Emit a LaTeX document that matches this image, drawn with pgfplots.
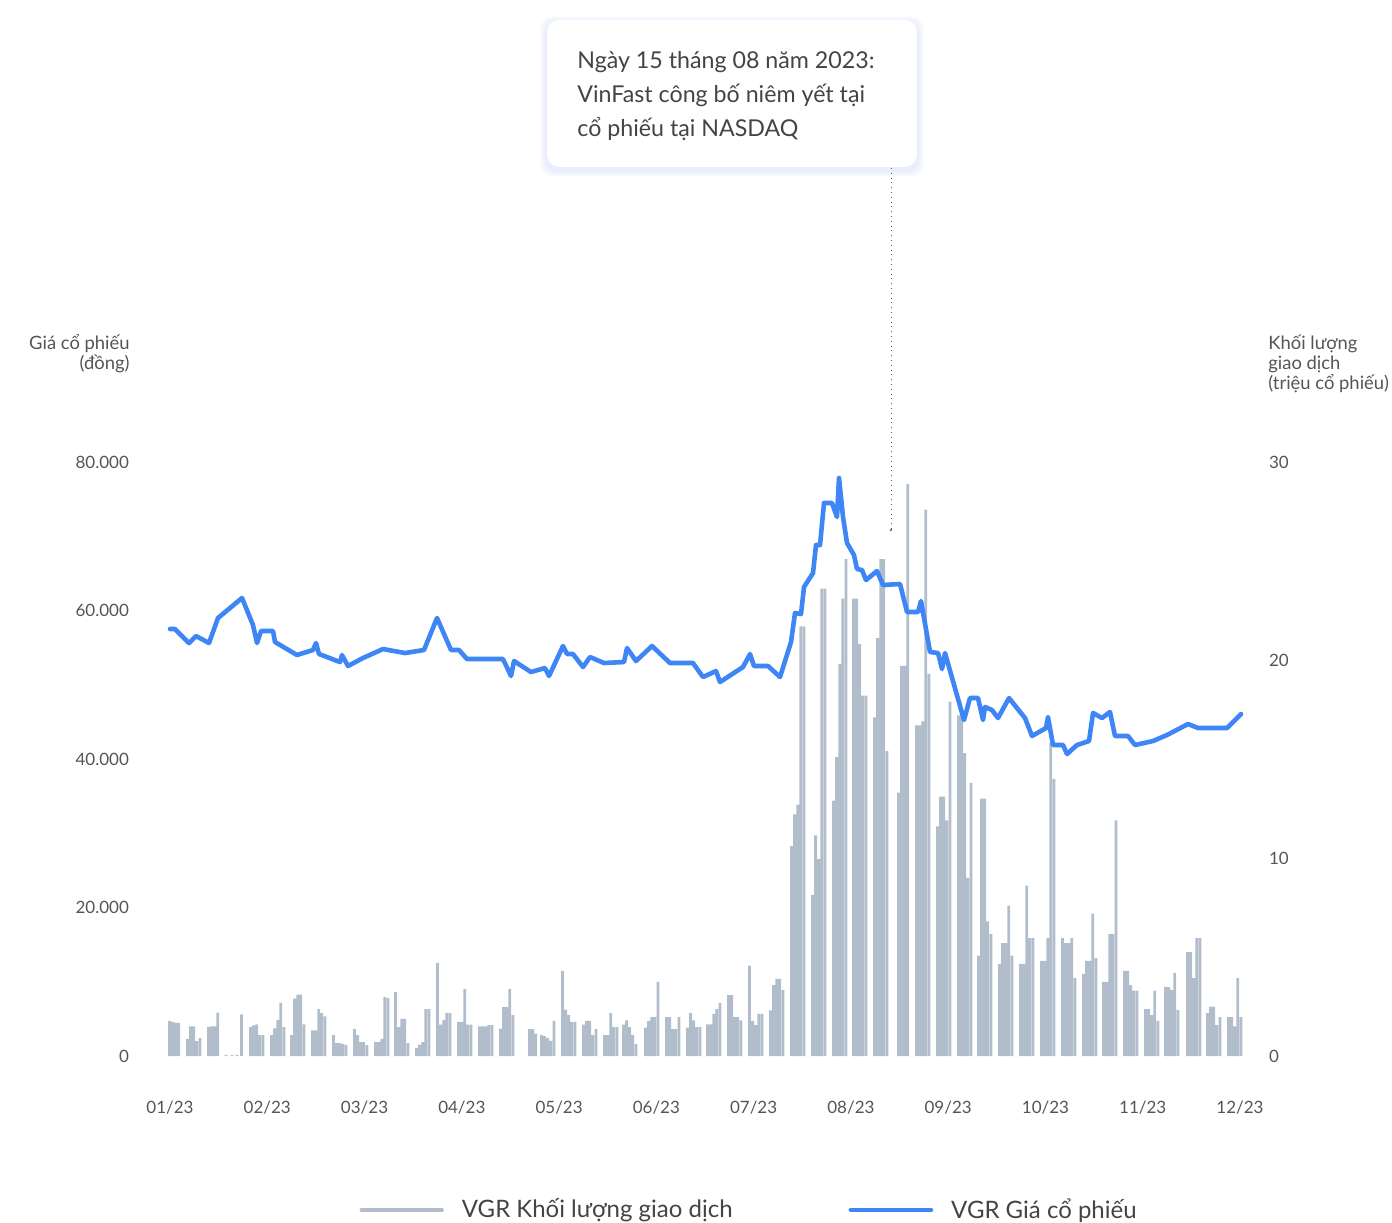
\documentclass[border=0pt]{standalone}
\usepackage{fontspec}
\setmainfont{Lato}
\usepackage{pgfplots}
\pgfplotsset{compat=1.18}
\usepackage{pgfplotstable}
\definecolor{barcol}{RGB}{177,189,202}
\definecolor{linecol}{RGB}{62,133,246}
\definecolor{txt}{RGB}{85,85,85}
\definecolor{anntxt}{RGB}{68,68,68}
\definecolor{shadowcol}{RGB}{150,170,240}

\pgfplotstableread{
x price
170 57508
175 57508
189 55623
196 56566
209 55623
218 58990
242 61684
253 58047
257 55623
261 57239
273 57239
275 55758
297 54007
313 54680
316 55623
319 54141
340 53064
342 54007
348 52525
363 53603
383 54815
405 54276
424 54680
437 58990
451 54680
459 54680
467 53468
503 53468
511 51178
514 53199
531 51717
545 52256
549 51178
563 55219
567 54141
573 54141
583 52391
590 53737
604 52929
624 53064
627 54949
636 53199
652 55219
670 52929
693 52929
703 51044
716 51852
720 50370
743 52391
750 54141
754 52525
768 52525
780 51044
791 55758
795 59663
801 59529
804 63165
813 65050
816 68821
820 68821
824 74478
832 74478
837 72593
839 77845
843 72593
847 69091
854 67475
857 65589
862 65454
866 64108
877 65320
883 63434
900 63569
907 59798
918 59798
921 61279
930 54411
938 54276
942 52121
945 54276
964 45252
970 48215
978 48215
983 45252
985 47003
992 46599
998 45522
1009 48215
1025 45522
1032 43098
1046 44175
1048 45657
1053 41885
1063 41885
1067 40673
1077 41885
1089 42424
1093 46195
1102 45522
1110 46330
1115 43098
1128 43098
1135 41885
1153 42424
1167 43232
1188 44714
1198 44175
1227 44175
1241 46061
}\pricedata

\pgfplotstableread{
x vol
169.5 1.77
172.6 1.72
175.7 1.67
178.8 1.67
187.5 0.87
190.6 1.5
193.7 1.5
196.8 0.75
199.9 0.9
208.5 1.46
211.6 1.5
214.7 1.5
217.8 2.19
226 0.05
232 0.05
237 0.05
241.5 2.1
250.5 1.46
253.6 1.55
256.7 1.6
259.8 1.06
262.9 1.06
271.5 1.06
274.6 1.4
277.7 1.82
280.8 2.68
283.9 1.46
291.5 1.06
294.6 2.9
297.7 3.1
300.8 3.1
303.9 1.6
312.5 1.3
315.6 1.3
318.7 2.37
321.8 2.17
324.9 2.0
333.5 1.06
336.6 0.65
339.7 0.65
342.8 0.6
345.9 0.56
354.5 1.36
357.6 1.06
360.7 0.7
363.8 0.7
366.9 0.55
375.5 0.7
378.6 0.7
381.7 0.87
384.8 2.98
387.9 2.93
395.5 3.23
398.6 1.46
401.7 1.87
404.8 1.87
407.9 0.65
416.5 0.4
419.6 0.57
422.7 0.7
425.8 2.37
428.9 2.37
437.5 4.7
440.6 1.58
443.7 1.83
446.8 2.17
449.9 2.17
458.5 1.72
461.6 1.72
464.7 3.38
467.8 1.58
470.9 1.58
479.5 1.5
482.6 1.5
485.7 1.5
488.8 1.56
491.9 1.56
500.5 1.38
503.6 2.47
506.7 2.47
509.8 3.38
512.9 2.07
529.5 1.36
532.6 1.36
535.7 1.13
541.5 1.06
544.6 1.0
547.7 0.9
550.8 0.77
553.9 1.77
562.5 4.3
565.6 2.34
568.7 2.07
571.8 1.72
574.9 1.72
583.5 1.58
586.6 1.77
589.7 1.77
592.8 1.06
595.9 1.36
604.5 1.06
607.6 1.06
610.7 2.17
613.8 1.46
616.9 1.46
623.5 1.58
626.6 1.8
629.7 1.46
632.8 1.06
635.9 0.6
645.5 1.43
648.6 1.77
651.7 1.97
654.8 1.97
657.9 3.74
666.5 1.97
669.6 1.97
672.7 1.36
675.8 1.36
678.9 1.97
687.5 1.43
690.6 2.17
693.7 1.8
696.8 1.46
699.9 1.46
707.5 1.6
710.6 1.6
713.7 2.13
716.8 2.37
719.9 2.68
728.5 3.08
731.6 3.08
734.7 1.97
737.8 1.97
740.9 1.8
749.5 4.56
752.6 1.77
755.7 1.56
758.8 2.13
761.9 2.13
770.5 2.3
773.6 3.58
776.7 3.9
779.8 3.9
782.9 3.33
791.5 10.6
794.6 12.2
797.7 12.7
800.8 21.7
803.9 21.7
812.5 8.13
815.6 11.14
818.7 9.95
821.8 23.6
824.9 23.6
833.5 12.9
836.6 15.1
839.7 19.8
842.8 23.1
845.9 25.1
853.5 23.1
856.6 23.1
859.7 20.8
862.8 18.2
865.9 18.2
874.5 17.1
877.6 21.1
880.7 25.1
883.8 25.1
886.9 15.4
898.5 13.3
901.6 19.7
904.7 19.7
907.8 28.9
916.5 16.7
919.6 16.7
922.7 16.9
925.8 27.6
928.9 19.3
937.5 11.6
940.6 13.1
943.7 13.1
946.8 11.9
949.9 17.9
958.5 17.2
961.6 17.2
964.7 15.3
967.8 9.0
970.9 13.8
978.5 5.07
981.6 13.0
984.7 13.0
987.8 6.8
990.9 6.16
999.5 4.65
1002.6 5.7
1005.7 5.7
1008.8 7.6
1011.9 5.07
1020.5 4.65
1023.6 4.65
1026.7 8.6
1029.8 5.96
1032.9 5.96
1041.5 4.8
1044.6 4.8
1047.7 5.96
1050.8 15.8
1053.9 14.0
1062.5 5.96
1065.6 5.7
1068.7 5.7
1071.8 5.96
1074.9 3.94
1083.5 4.14
1086.6 4.8
1089.7 4.8
1092.8 7.19
1095.9 4.95
1103.5 3.74
1106.6 3.74
1109.7 6.16
1112.8 6.16
1115.9 11.9
1124.5 4.3
1127.6 4.3
1130.7 3.58
1133.8 3.3
1136.9 3.3
1145.5 2.37
1148.6 2.37
1151.7 2.07
1154.8 3.3
1157.9 1.77
1165.5 3.48
1168.6 3.48
1171.7 3.34
1174.8 4.19
1177.9 2.32
1187.5 5.25
1190.6 5.25
1193.7 3.94
1196.8 5.96
1199.9 5.96
1207.5 2.17
1210.6 2.5
1213.7 2.5
1216.8 1.56
1219.9 1.97
1228.5 1.97
1231.6 1.97
1234.7 1.5
1237.8 3.94
1240.9 1.97
}\voldata

\begin{document}
\begin{tikzpicture}
\pgfplotsset{
  base/.style={
    scale only axis, width=555pt, height=297pt,
    xmin=150, xmax=1260,
    at={(75pt,-528pt)}, anchor=south west,
    axis line style={draw=none}, major tick length=0pt,
    tick label style={font=\fontsize{8.5}{10}\selectfont, text=txt},
    /pgf/number format/assume math mode=true,
  }
}
% volume (right axis)
\begin{axis}[base,
  ymin=0, ymax=30,
  axis y line*=right,
  ytick={0,10,20,30},
  xtick=\empty,
  yticklabel style={anchor=west, xshift=1pt},
]
\addplot[ybar, bar width=2.8, fill=barcol, draw=none] table[x=x, y=vol] {\voldata};
\end{axis}
% price (left axis)
\begin{axis}[base,
  ymin=0, ymax=80000,
  axis y line*=left,
  ytick={0,20000,40000,60000,80000},
  scaled y ticks=false,
  yticklabel style={anchor=east, xshift=-7pt, /pgf/number format/.cd, fixed, 1000 sep={.}},
  xtick={170,267.27,364.55,461.82,559.09,656.36,753.64,850.91,948.18,1045.45,1142.73,1240},
  xticklabels={01/23,02/23,03/23,04/23,05/23,06/23,07/23,08/23,09/23,10/23,11/23,12/23},
  xticklabel style={yshift=-19pt},
  legend columns=2,
  legend style={at={(0.183,-0.259)}, anchor=west, draw=none, fill=none,
    font=\fontsize{12}{14}\selectfont, text=anntxt,
    /tikz/every odd column/.append style={column sep=7pt},
    /tikz/every even column/.append style={column sep=56pt}},
  legend image code/.code={\draw[#1, line cap=round] (0pt,0pt) -- (40pt,0pt);},
]
\addlegendimage{barcol, line width=2.2pt}
\addlegendentry{VGR Khối lượng giao dịch}
\addplot[linecol, line width=2.3pt, line join=round, line cap=round] table[x=x, y=price] {\pricedata};
\addlegendentry{VGR Giá cổ phiếu}
\end{axis}

\begin{scope}[x=0.5pt, y=-0.5pt]
  % axis titles
  \node[anchor=north east, align=right, inner sep=0pt, text=txt, font=\fontsize{9.2}{10}\selectfont] at (130,334) {Giá cổ phiếu\\(đồng)};
  \node[anchor=north west, align=left, inner sep=0pt, text=txt, font=\fontsize{9.2}{10}\selectfont] at (1268,334) {Khối lượng\\giao dịch\\(triệu cổ phiếu)};
  % annotation
  \foreach \i in {1,...,7} {
    \fill[shadowcol, opacity=0.035, rounded corners=6pt] (547-\i,20-\i+3) rectangle (917+\i,167+\i+3);
  }
  \fill[white, rounded corners=6pt] (547,20) rectangle (917,167);
  \draw[txt, line width=0.4pt, dotted] (891,168) -- (891,530);
  \fill[black!70] (891,530) circle (1.2);
  \begin{scope}[every node/.style={anchor=base west, inner sep=0pt, text=anntxt, font=\fontsize{11.6}{13}\selectfont}]
    \node at (577,68) {Ngày 15 tháng 08 năm 2023:};
    \node at (577,102) {VinFast công bố niêm yết tại};
    \node at (577,136) {cổ phiếu tại NASDAQ};
  \end{scope}
\end{scope}
\pgfresetboundingbox
\path[use as bounding box] (0,0) rectangle (696pt,-611pt);
\end{tikzpicture}
\end{document}
